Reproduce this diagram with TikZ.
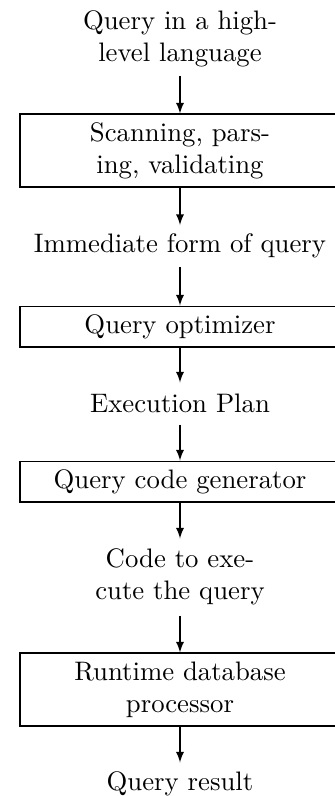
\documentclass[tikz,border=0pt]{standalone}
\usetikzlibrary{arrows}
\begin{document}
\begin{tikzpicture}[x=0.374pt,y=-0.374pt,
  every node/.style={align=center,inner sep=0pt,font=\normalsize},
  procbox/.style={draw,line width=0.4pt,minimum width=119.7pt},
  lab/.style={},
  one/.style={minimum height=15.3pt},
  two/.style={minimum height=27.3pt},
  flow/.style={-latex,line width=0.4pt}]
\useasboundingbox (0,0) rectangle (335,796);
\node[lab,two] (t0) at (180,38.5) {Query in a high-\\level language};
\node[procbox,two] (b1) at (180,150.5) {Scanning, pars-\\ing, validating};
\node[lab,one] (t1) at (180,246) {Immediate form of query};
\node[procbox,one] (b2) at (180,326.5) {Query optimizer};
\node[lab,one] (t2) at (180,403.5) {Execution Plan};
\node[procbox,one] (b3) at (180,481.5) {Query code generator};
\node[lab,minimum height=28.4pt] (t3) at (180,577) {Code to exe-\\cute the query};
\node[procbox,two] (b4) at (180,689.5) {Runtime database\\processor};
\node[lab,one] (t4) at (180,783.5) {Query result};
\draw[flow] (t0) -- (b1);
\draw[flow] (b1) -- (t1);
\draw[flow] (t1) -- (b2);
\draw[flow] (b2) -- (t2);
\draw[flow] (t2) -- (b3);
\draw[flow] (b3) -- (t3);
\draw[flow] (t3) -- (b4);
\draw[flow] (b4) -- (t4);
\end{tikzpicture}
\end{document}
